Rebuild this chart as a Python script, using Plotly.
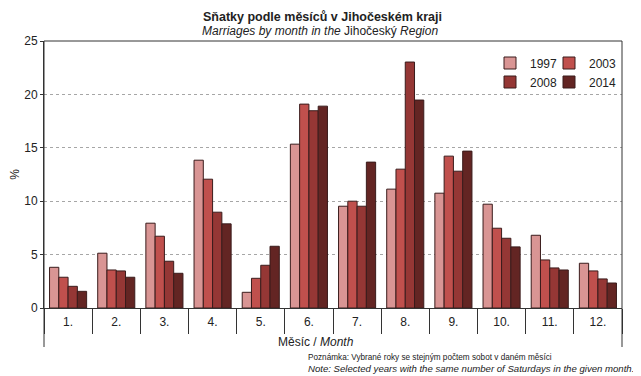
import plotly.graph_objects as go

months = ["1.", "2.", "3.", "4.", "5.", "6.", "7.", "8.", "9.", "10.", "11.", "12."]
years = ["1997", "2003", "2008", "2014"]
v1997 = [3.81, 5.13, 7.94, 13.84, 1.47, 15.34, 9.53, 11.13, 10.75, 9.72, 6.81, 4.19]
v2003 = [2.88, 3.56, 6.72, 12.06, 2.78, 19.09, 10.0, 13.0, 14.22, 7.47, 4.5, 3.47]
v2008 = [2.03, 3.47, 4.38, 8.97, 4.0, 18.47, 9.53, 23.03, 12.81, 6.53, 3.75, 2.72]
v2014 = [1.56, 2.88, 3.25, 7.88, 5.78, 18.9, 13.66, 19.47, 14.69, 5.72, 3.56, 2.34]
series = [v1997, v2003, v2008, v2014]
colors = ["#d99594", "#c0504d", "#953735", "#632523"]

FONT = "Liberation Sans, Arial, sans-serif"

# The page body has an 8px margin; compensate so the figure lands where the reference is.
OFF = 8
W, H = 641 - OFF, 376 - OFF
# desired plot area in page pixels: left 44, right 622, top 41, bottom 308
ML = 44 - OFF
MT = 41 - OFF
MR = W - (622 - OFF)
MB = H - (308 - OFF)
PW, PH = W - ML - MR, H - MT - MB

def px_x(x):
    return (x - OFF - ML) / PW

def px_y(y):
    return (H - MB - (y - OFF)) / PH

fig = go.Figure()
legend_names = ["legend", "legend2", "legend3", "legend4"]
for i, (yr, vals, c) in enumerate(zip(years, series, colors)):
    fig.add_trace(go.Bar(
        x=months, y=vals, name=yr,
        marker=dict(color=c, line=dict(color="#3a1c1c", width=1)),
        legend=legend_names[i],
    ))

leg_pos = [(490, 63), (549, 63), (490, 82), (549, 82)]
leg_layout = {}
for name, (lx, ly) in zip(legend_names, leg_pos):
    leg_layout[name] = dict(
        x=px_x(lx), y=px_y(ly), xanchor="left", yanchor="middle",
        font=dict(family=FONT, size=12, color="#222"),
        bgcolor="rgba(0,0,0,0)", borderwidth=0, itemwidth=30,
    )

fig.update_layout(
    width=W, height=H,
    margin=dict(l=ML, r=MR, t=MT, b=MB, autoexpand=False),
    paper_bgcolor="white", plot_bgcolor="white",
    barmode="group", bargap=0.23, bargroupgap=0,
    font=dict(family=FONT, size=12, color="#222"),
    showlegend=True,
    **leg_layout,
)

fig.update_xaxes(
    type="category", tickson="boundaries",
    ticks="outside", ticklen=25, tickcolor="#333", tickwidth=1,
    showline=True, linecolor="#333", linewidth=1,
    showgrid=False, ticklabelstandoff=3, automargin=False,
    tickfont=dict(family=FONT, size=12, color="#222"),
)
fig.update_yaxes(
    range=[0, 25], dtick=5, tick0=0,
    ticks="outside", ticklen=3, tickcolor="#333",
    showline=True, linecolor="#333", linewidth=1,
    showgrid=True, gridcolor="#a6a6a6", griddash="dot", gridwidth=1,
    zeroline=False, automargin=False,
    tickfont=dict(family=FONT, size=12, color="#222"),
    title=dict(text="%", font=dict(family=FONT, size=12, color="#222"), standoff=14),
)

# frame: top line, left and right lines extending below the axis
bottom = px_y(347)
line = dict(color="#333", width=1)
fig.add_shape(type="line", xref="paper", yref="paper", x0=0, x1=1, y0=1, y1=1, line=line)
fig.add_shape(type="line", xref="paper", yref="paper", x0=0, x1=0, y0=1, y1=bottom, line=line)
fig.add_shape(type="line", xref="paper", yref="paper", x0=1, x1=1, y0=1, y1=bottom, line=line)

ann = [
    dict(text="<b>Sňatky podle měsíců v Jihočeském kraji</b>", x=px_x(322), y=px_y(17), size=12.5),
    dict(text="<i>Marriages by month in the</i> Jihočeský <i>Region</i>", x=px_x(320), y=px_y(31), size=12),
    dict(text="Měsíc / <i>Month</i>", x=px_x(316), y=px_y(342), size=12),
]
for a in ann:
    fig.add_annotation(text=a["text"], x=a["x"], y=a["y"], xref="paper", yref="paper",
                       xanchor="center", yanchor="middle", showarrow=False,
                       font=dict(family=FONT, size=a["size"], color="#222"))

notes = [
    ("Poznámka: Vybrané roky se stejným počtem sobot v daném měsíci", 357, 8.2),
    ("<i>Note: Selected years with the same number of Saturdays in the given month.</i>", 368, 9.6),
]
for t, yy, fs in notes:
    fig.add_annotation(text=t, x=px_x(306), y=px_y(yy), xref="paper", yref="paper",
                       xanchor="left", yanchor="middle", showarrow=False,
                       font=dict(family=FONT, size=fs, color="#222"))

fig.write_html("out.html")
